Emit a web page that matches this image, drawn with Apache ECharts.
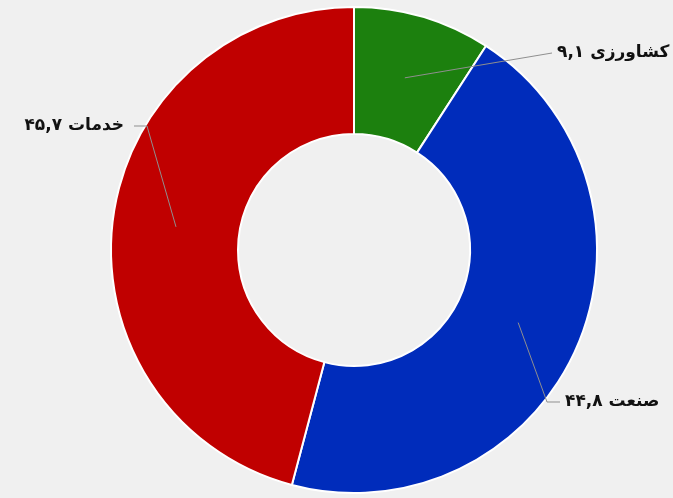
<!DOCTYPE html>
<html>
<head>
<meta charset="utf-8">
<script src="https://cdn.jsdelivr.net/npm/echarts@6/dist/echarts.min.js"></script>
<style>
  html, body { margin: 0; padding: 0; background: #f0f0f0; }
  #main { width: 673px; height: 498px; }
</style>
</head>
<body>
<div id="main"></div>
<script>
// data
var names = ['کشاورزی', 'صنعت', 'خدمات'];
var values = [9.1, 44.8, 45.7];
var colors = ['#1c800e', '#002cbb', '#c00000'];

// label anchors (layout only): [elbow x, elbow y, end x, text x, align]
var labelSpots = [
  [552, 53, 552, 557, 'left'],
  [547, 402, 560, 565, 'left'],
  [147, 126, 134, 124, 'right']
];

var cx = 354, cy = 250, rIn = 116, rOut = 243;

function faNum(v) {
  var d = '۰۱۲۳۴۵۶۷۸۹';
  return String(v).replace('.', ',').replace(/[0-9]/g, function (c) { return d[+c]; });
}

var ringData = names.map(function (n, i) {
  return { name: n, value: values[i], itemStyle: { color: colors[i] } };
});
var labelData = names.map(function (n, i) {
  return { name: n, value: values[i] };
});

var chart = echarts.init(document.getElementById('main'));

var baseSeries = {
  type: 'pie',
  center: [cx, cy],
  radius: [rIn, rOut],
  startAngle: 90,
  clockwise: true,
  avoidLabelOverlap: false,
  emphasis: { disabled: true }
};

var option = {
  backgroundColor: '#f0f0f0',
  animation: false,
  series: [
    // the ring
    Object.assign({}, baseSeries, {
      z: 2,
      itemStyle: { borderColor: '#ffffff', borderWidth: 2 },
      label: { show: false },
      labelLine: { show: false },
      data: ringData
    }),
    // labels and leader lines, drawn over the ring
    Object.assign({}, baseSeries, {
      z: 5,
      silent: true,
      itemStyle: { color: 'rgba(0,0,0,0)', borderWidth: 0 },
      label: {
        show: true,
        position: 'outside',
        color: '#111',
        fontFamily: 'DejaVu Sans',
        fontWeight: 'bold',
        fontSize: 17,
        formatter: function (p) { return p.name + ' ' + faNum(p.value); }
      },
      labelLine: { show: true, lineStyle: { color: '#8f8f8f', width: 1 } },
      labelLayout: function (params) {
        var s = labelSpots[params.dataIndex];
        var p0 = params.labelLinePoints[0];
        // start the leader line in the middle of the ring
        var dx = p0[0] - cx, dy = p0[1] - cy;
        var len = Math.sqrt(dx * dx + dy * dy);
        var rm = (rIn + rOut) / 2;
        var start = [cx + dx / len * rm, cy + dy / len * rm];
        return {
          x: s[3],
          y: s[1],
          align: s[4],
          verticalAlign: 'middle',
          labelLinePoints: [start, [s[0], s[1]], [s[2], s[1]]]
        };
      },
      data: labelData
    })
  ]
};
chart.setOption(option);
</script>
</body>
</html>
